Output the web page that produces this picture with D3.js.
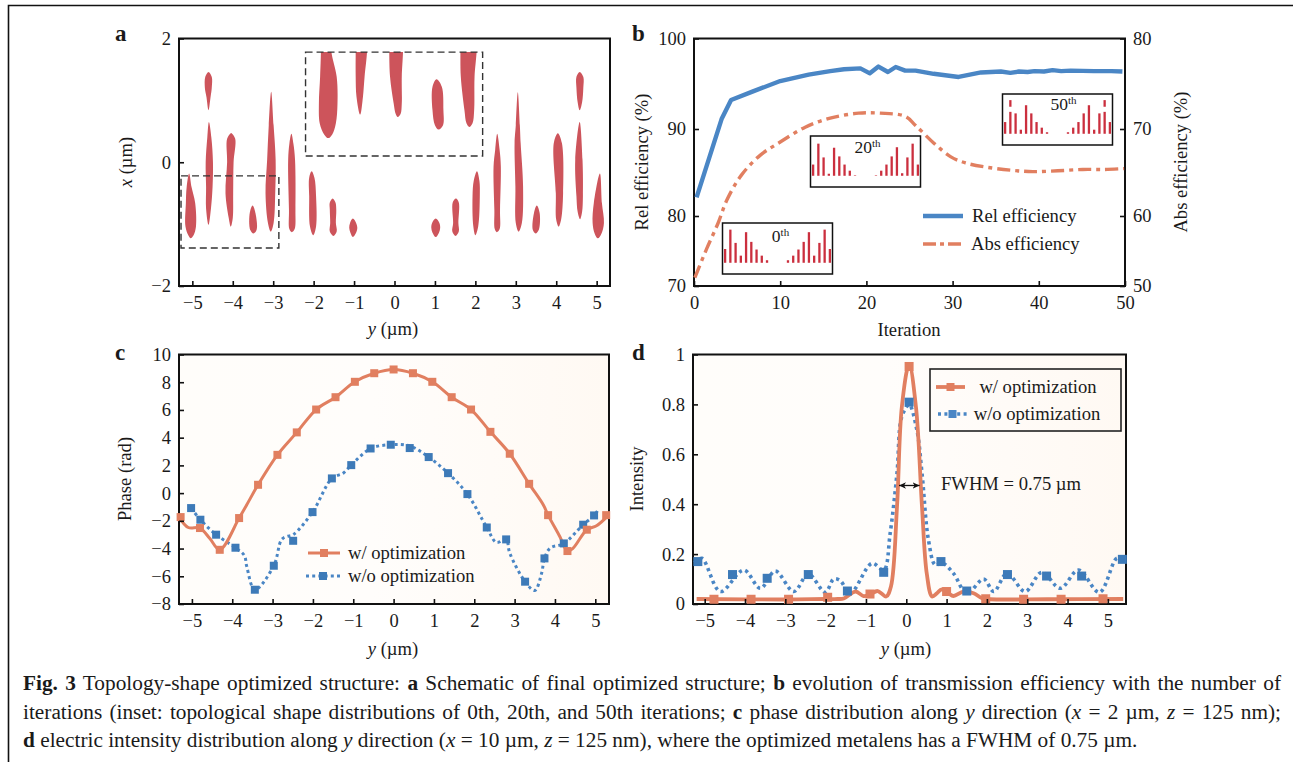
<!DOCTYPE html>
<html>
<head>
<meta charset="utf-8">
<script src="https://cdn.jsdelivr.net/npm/d3@7"></script>
<style>
  html, body { margin: 0; padding: 0; background: #fff; overflow: hidden; }
  svg { display: block; font-family: "Liberation Serif", serif; fill: #1a1a1a; }
  .tick text { font-family: "Liberation Serif", serif; font-size: 18.5px; fill: #1a1a1a; }
  .tick line { stroke: #111; stroke-width: 1.6; }
  .domain { display: none; }
  .frame { fill: none; stroke: #111; stroke-width: 2; }
  .title { font-size: 18.6px; }
  .panel-label { font-size: 23px; font-weight: bold; }
  .legend-text { font-size: 18.6px; }
  .caption { font-size: 21.3px; }
</style>
</head>
<body>
<svg id="chart" width="1293" height="762"></svg>
<script>
// panel a: each blob is a list of [x, yLeft, yRight] slices in um
const blobsLeft = [
  [[-0.18,-5.08,-5.08],[-0.4,-5.14,-5.02],[-0.66,-5.16,-4.93],[-1.04,-5.17,-4.91],[-1.18,-5.1,-4.97],[-1.23,-5.04,-5.04]],
  [[1.46,-4.6,-4.6],[1.38,-4.68,-4.52],[1.2,-4.69,-4.52],[1.05,-4.65,-4.55],[0.84,-4.6,-4.6]],
  [[0.65,-4.59,-4.59],[0.4,-4.63,-4.53],[0,-4.67,-4.49],[-0.4,-4.66,-4.5],[-0.75,-4.66,-4.54],[-1.01,-4.6,-4.6]],
  [[0.47,-4.05,-4.03],[0.38,-4.14,-3.94],[0,-4.14,-3.98],[-0.5,-4.18,-3.99],[-0.9,-4.1,-4.0],[-1.04,-4.05,-4.05]],
  [[-0.7,-3.51,-3.51],[-0.82,-3.58,-3.44],[-1.09,-3.57,-3.41],[-1.15,-3.49,-3.49]],
  [[1.14,-3.05,-3.05],[0.6,-3.11,-2.99],[0.04,-3.15,-2.94],[-0.5,-3.19,-2.95],[-0.98,-3.13,-2.99],[-1.12,-3.06,-3.06]],
  [[0.46,-2.55,-2.55],[0.3,-2.6,-2.5],[0.04,-2.63,-2.46],[-0.77,-2.61,-2.45],[-1.08,-2.6,-2.47],[-1.13,-2.54,-2.54]],
  [[-0.145,-2.05,-2.05],[-0.25,-2.11,-1.98],[-0.55,-2.11,-1.94],[-1.04,-2.09,-1.94],[-1.18,-2.01,-2.01]],
  [[-0.585,-1.53,-1.53],[-0.65,-1.6,-1.46],[-0.77,-1.6,-1.44],[-0.98,-1.59,-1.45],[-1.12,-1.6,-1.43],[-1.19,-1.51,-1.51]],
  [[-0.91,-1.03,-1.03],[-0.98,-1.1,-0.95],[-1.06,-1.12,-0.92],[-1.14,-1.09,-0.95],[-1.21,-1.03,-1.03]]
];
const blobsTop = [
  [[1.95,-1.82,-1.56],[1.78,-1.82,-1.56],[1.38,-1.84,-1.43],[0.95,-1.87,-1.41],[0.63,-1.85,-1.45],[0.45,-1.74,-1.54],[0.39,-1.64,-1.64]],
  [[1.95,-0.96,-0.68],[1.78,-0.96,-0.68],[1.38,-0.96,-0.74],[1.06,-0.94,-0.78],[0.77,-0.85,-0.85]],
  [[1.95,-0.13,0.21],[1.78,-0.13,0.21],[1.38,-0.11,0.18],[0.95,-0.02,0.18],[0.78,0.03,0.15],[0.73,0.08,0.08]],
  [[1.34,1.04,1.04],[1.22,0.94,1.17],[0.84,0.94,1.21],[0.6,1.0,1.2],[0.53,1.09,1.09]],
  [[1.95,1.63,2.03],[1.78,1.63,2.03],[1.38,1.64,1.98],[0.84,1.73,1.97],[0.63,1.78,1.93],[0.57,1.85,1.85]]
];
const blobsRight = [
  [[-0.91,1.02,1.02],[-0.98,0.93,1.11],[-1.06,0.91,1.13],[-1.14,0.94,1.1],[-1.21,1.02,1.02]],
  [[-0.585,1.52,1.52],[-0.65,1.44,1.59],[-0.98,1.45,1.58],[-1.12,1.43,1.59],[-1.19,1.51,1.51]],
  [[-0.145,2.04,2.04],[-0.3,1.96,2.1],[-0.55,1.93,2.11],[-1.04,1.95,2.07],[-1.18,2.0,2.0]],
  [[0.46,2.54,2.54],[0.2,2.49,2.6],[-0.07,2.45,2.63],[-0.77,2.47,2.61],[-1.08,2.48,2.6],[-1.13,2.53,2.53]],
  [[1.13,3.05,3.05],[0.6,3.0,3.1],[0.31,2.97,3.12],[-0.39,2.99,3.18],[-0.98,3.0,3.15],[-1.12,3.07,3.07]],
  [[-0.7,3.52,3.52],[-0.82,3.45,3.59],[-1.09,3.42,3.57],[-1.15,3.49,3.49]],
  [[0.47,4.04,4.04],[0.31,3.94,4.14],[-0.5,3.99,4.17],[-0.93,4.0,4.12],[-1.04,4.06,4.06]],
  [[1.46,4.58,4.58],[1.38,4.5,4.67],[1.2,4.5,4.67],[0.97,4.53,4.64],[0.84,4.58,4.58]],
  [[0.65,4.58,4.58],[0.04,4.47,4.65],[-0.55,4.5,4.66],[-0.8,4.53,4.64],[-0.92,4.59,4.59]],
  [[-0.18,5.08,5.08],[-0.66,4.93,5.13],[-0.98,4.9,5.18],[-1.15,4.95,5.12],[-1.23,5.03,5.03]]
];
const dashedBoxes = [[-5.28,-2.86,-1.385,-0.22],[-2.2,2.18,0.1,1.78]];

// panel b
const relIter = [0.3,3.2,4.3,6.7,10,13.3,15.8,17.4,19.3,20.4,21.4,22.5,23.4,24.5,25.7,27.8,30.7,33.3,35.6,36.7,37.7,38.7,39.5,40.6,41.6,42.6,43.7,46.4,48.4,49.7];
const relValues = [82.15,91.1,93.2,94.1,95.3,96,96.4,96.6,96.7,96.15,96.9,96.3,96.85,96.45,96.45,96.1,95.75,96.25,96.35,96.2,96.35,96.3,96.4,96.35,96.5,96.4,96.45,96.4,96.4,96.35];
const absIter = [0.1,1.5,2.8,3.8,5.5,7.7,10,12.9,15.8,19.1,21.6,24.5,25.7,27.8,29.8,31.5,34,36.9,39.3,42.2,45.1,47.6,49.9];
const absValues = [51.2,55.4,59,61.8,64.7,67,68.5,70.2,71.2,71.75,71.75,71.4,70.4,68.4,66.8,66.1,65.6,65.25,65.1,65.2,65.35,65.35,65.45];

// insets of panel b
const insetPositions = [-5,-4.5,-4,-3.5,-3,-2.5,-2,-1.5,-1,1,1.5,2,2.5,3,3.5,4,4.5,5];
const inset0Tops = [.49,.87,.61,.36,.82,.63,.48,.36,.27,.27,.36,.48,.63,.82,.36,.61,.87,.49];
const inset20Tops = [.44,.85,.58,.26,.77,.6,.44,.32,.23,.23,.32,.44,.6,.78,.27,.58,.85,.44];
const inset50Tops = [.45,.65,.62,.3,.78,.62,.45,.34,.25,.25,.34,.45,.62,.78,.3,.62,.65,.45];

// panel c
const phaseOptLine = [[-5.32,-1.73],[-5.09,-2.48],[-4.8,-2.52],[-4.55,-3.3],[-4.31,-4.09],[-3.83,-1.8],[-3.64,-0.84],[-3.36,0.6],[-2.88,2.76],[-2.4,4.38],[-1.92,6.03],[-1.44,6.92],[-0.96,8.03],[-0.48,8.65],[0,8.92],[0.48,8.65],[0.96,8.03],[1.44,6.92],[1.92,6.03],[2.4,4.42],[2.88,2.84],[3.36,0.67],[3.71,-0.84],[3.83,-1.59],[4.12,-3.13],[4.31,-4.18],[4.45,-3.97],[4.79,-2.64],[5.03,-2.36],[5.33,-1.59]];
const phaseOptMarks = [[-5.28,-1.73],[-4.8,-2.52],[-4.31,-4.09],[-3.83,-1.8],[-3.36,0.6],[-2.88,2.76],[-2.4,4.38],[-1.92,6.03],[-1.44,6.92],[-0.96,8.03],[-0.48,8.65],[0,8.92],[0.48,8.65],[0.96,8.03],[1.44,6.92],[1.92,6.03],[2.4,4.42],[2.88,2.84],[3.36,0.67],[3.83,-1.59],[4.31,-4.18],[4.79,-2.64],[5.27,-1.59]];
const phaseRawLine = [[-5.02,-1.08],[-4.79,-1.92],[-4.4,-3],[-3.92,-3.94],[-3.7,-4.5],[-3.64,-5.29],[-3.44,-6.97],[-2.97,-5.24],[-2.78,-3.37],[-2.65,-3.13],[-2.49,-3],[-2.01,-1.37],[-1.53,1.06],[-1.25,1.44],[-1.05,2.02],[-0.57,3.22],[-0.07,3.49],[0.4,3.4],[0.87,2.6],[1.35,1.44],[1.83,-0.07],[2.31,-2.48],[2.55,-3.56],[2.79,-3.34],[2.88,-4.33],[3.26,-6.39],[3.5,-7.02],[3.67,-5.77],[3.74,-4.71],[3.88,-3.97],[4.22,-3.63],[4.7,-2.28],[4.97,-1.61],[5.07,-1.2]];
const phaseRawMarks = [[-5.02,-1.08],[-4.79,-1.92],[-4.4,-3],[-3.92,-3.94],[-3.44,-6.97],[-2.97,-5.24],[-2.49,-3.44],[-2.01,-1.37],[-1.53,1.06],[-1.05,2.02],[-0.57,3.22],[-0.07,3.49],[0.4,3.25],[0.87,2.6],[1.35,1.44],[1.83,-0.07],[2.31,-2.48],[2.79,-3.34],[3.26,-6.39],[3.74,-4.71],[4.22,-3.63],[4.7,-2.28],[4.97,-1.61]];

// panel d
const intensityOptLine = [[-5.2,0.02],[-3,0.018],[-2,0.02],[-1.7,0.02],[-1.55,0.022],[-1.26,0.05],[-1.06,0.032],[-0.9,0.038],[-0.71,0.052],[-0.5,0.03],[-0.38,0.07],[-0.23,0.39],[-0.11,0.79],[0.07,0.96],[0.24,0.79],[0.39,0.39],[0.51,0.12],[0.64,0.03],[0.76,0.043],[0.88,0.059],[1.05,0.043],[1.17,0.032],[1.42,0.05],[1.67,0.043],[1.88,0.023],[2.08,0.019],[3.5,0.019],[5.38,0.02]];
const intensityOptMarks = [[-4.77,0.019],[-3.85,0.019],[-2.92,0.019],[-1.95,0.027],[-0.9,0.04],[0.07,0.952],[1,0.05],[1.97,0.021],[2.91,0.019],[3.84,0.019],[4.88,0.021]];
const intensityRawLine = [[-5.25,0.165],[-5.07,0.183],[-4.61,0.05],[-4.03,0.136],[-3.62,0.063],[-3.25,0.132],[-2.79,0.05],[-2.43,0.12],[-2.01,0.047],[-1.8,0.1],[-1.64,0.094],[-1.39,0.043],[-0.85,0.163],[-0.56,0.136],[-0.4,0.283],[-0.23,0.524],[-0.11,0.751],[0.07,0.798],[0.26,0.7],[0.39,0.524],[0.55,0.257],[0.72,0.156],[0.88,0.166],[1.17,0.123],[1.5,0.043],[1.92,0.1],[2.17,0.05],[2.5,0.123],[2.95,0.05],[3.36,0.127],[3.82,0.063],[4.27,0.136],[4.79,0.047],[5.22,0.183],[5.39,0.179]];
const intensityRawMarks = [[-5.17,0.17],[-4.31,0.118],[-3.45,0.103],[-2.43,0.118],[-1.46,0.052],[-0.56,0.127],[0.07,0.809],[0.86,0.17],[1.5,0.052],[2.51,0.118],[3.48,0.112],[4.35,0.112],[5.36,0.179]];

const yTicksMicron = [-5,-4,-3,-2,-1,0,1,2,3,4,5];
const ORANGE = "#e17f60";
const BLUE = "#4a86c5";
const MARK_BLUE = "#3d7ab8";
const BLOB_RED = "#cd545b";
const INSET_RED = "#cb2f3e";

const svg = d3.select("#chart");
const defs = svg.append("defs");

const shade = defs.append("linearGradient").attr("id", "panel-shade");
shade.append("stop").attr("offset", "0%").attr("stop-color", "#fffdfa");
shade.append("stop").attr("offset", "45%").attr("stop-color", "#fffdfb");
shade.append("stop").attr("offset", "100%").attr("stop-color", "#fff9f3");

defs.append("marker")
  .attr("id", "arrow-tip")
  .attr("viewBox", "0 0 8 8")
  .attr("refX", 7)
  .attr("refY", 4)
  .attr("markerWidth", 8)
  .attr("markerHeight", 8)
  .attr("markerUnits", "userSpaceOnUse")
  .attr("orient", "auto-start-reverse")
  .append("path")
  .attr("d", "M0,0.8 L7,4 L0,7.2 L2,4 z")
  .attr("fill", "#111");

// outer figure rule: top and left only
svg.append("path")
  .attr("d", "M1293,5.5 H8.5 V762")
  .attr("fill", "none")
  .attr("stroke", "#111")
  .attr("stroke-width", 1.6);

function makePanel(box, xDomain, yDomain, yRange) {
  const g = svg.append("g");
  const x = d3.scaleLinear().domain(xDomain).range([box.left, box.right]);
  const y = d3.scaleLinear().domain(yDomain).range(yRange || [box.bottom, box.top]);
  return { g, x, y, box };
}

function drawFrame(panel, shaded) {
  const { g, box } = panel;
  return g.insert("rect", ":first-child")
    .attr("class", "frame")
    .attr("x", box.left)
    .attr("y", box.top)
    .attr("width", box.right - box.left)
    .attr("height", box.bottom - box.top)
    .style("fill", shaded ? "url(#panel-shade)" : "none");
}

function drawAxes(panel, xTicks, yTicks, yFormat, xPad) {
  const { g, x, y, box } = panel;
  g.append("g")
    .attr("transform", `translate(0,${box.bottom})`)
    .call(d3.axisBottom(x).tickValues(xTicks).tickSizeInner(-5).tickSizeOuter(0).tickPadding(xPad));
  g.append("g")
    .attr("transform", `translate(${box.left},0)`)
    .call(d3.axisLeft(y).tickValues(yTicks).tickFormat(yFormat || d3.format("d")).tickSizeInner(-5).tickSizeOuter(0).tickPadding(8));
}

function panelLabel(text, x, y) {
  svg.append("text").attr("class", "panel-label").attr("x", x).attr("y", y).text(text);
}

function micronLabel(letter, x, y, rotate) {
  const t = svg.append("text")
    .attr("class", "title")
    .attr("text-anchor", "middle")
    .attr("transform", rotate ? `translate(${x},${y}) rotate(-90)` : `translate(${x},${y})`);
  t.append("tspan").attr("font-style", "italic").text(letter);
  t.append("tspan").text(" (\u00b5m)");
}

function plainLabel(text, x, y, rotate) {
  svg.append("text")
    .attr("class", "title")
    .attr("text-anchor", "middle")
    .attr("transform", rotate ? `translate(${x},${y}) rotate(-90)` : `translate(${x},${y})`)
    .text(text);
}

function drawSeries(panel, points, color, width, dash, curve) {
  const line = d3.line()
    .x((d) => panel.x(d[0]))
    .y((d) => panel.y(d[1]))
    .curve(curve || d3.curveCatmullRom.alpha(0.5));
  panel.g.append("path")
    .attr("d", line(points))
    .attr("fill", "none")
    .attr("stroke", color)
    .attr("stroke-width", width)
    .attr("stroke-dasharray", dash || null)
    .attr("stroke-linejoin", "round");
}

function drawMarks(panel, points, color, size) {
  panel.g.append("g")
    .selectAll("rect")
    .data(points)
    .join("rect")
    .attr("x", (d) => panel.x(d[0]) - size / 2)
    .attr("y", (d) => panel.y(d[1]) - size / 2)
    .attr("width", size)
    .attr("height", size)
    .attr("fill", color);
}

function legendRow(x1, x2, y, color, width, dash, mark, text, textX, anchor) {
  svg.append("line")
    .attr("x1", x1).attr("x2", x2).attr("y1", y).attr("y2", y)
    .attr("stroke", color).attr("stroke-width", width)
    .attr("stroke-dasharray", dash || null);
  if (mark) {
    svg.append("rect")
      .attr("x", (x1 + x2) / 2 - 4).attr("y", y - 4)
      .attr("width", 8).attr("height", 8).attr("fill", mark);
  }
  svg.append("text")
    .attr("class", "legend-text")
    .attr("x", textX).attr("y", y + 5.5)
    .attr("text-anchor", anchor || "start")
    .text(text);
}

// panel a
const panelA = makePanel({ left: 179, right: 610, top: 38.5, bottom: 286 }, [-5.33, 5.33], [-2, 2]);

// walk down the left edge and back up the right, a tip counts once
function blobOutline(slices) {
  const left = slices.map((d) => [d[1], d[0]]);
  const right = slices.filter((d) => d[1] !== d[2]).map((d) => [d[2], d[0]]).reverse();
  return left.concat(right);
}
const blobLine = d3.line()
  .x((d) => panelA.x(d[0]))
  .y((d) => panelA.y(d[1]))
  .curve(d3.curveCatmullRomClosed.alpha(0.5));

panelA.g.append("clipPath").attr("id", "clip-a").append("rect")
  .attr("x", panelA.box.left)
  .attr("y", panelA.y(dashedBoxes[1][3]))
  .attr("width", panelA.box.right - panelA.box.left)
  .attr("height", panelA.box.bottom - panelA.y(dashedBoxes[1][3]));

panelA.g.append("g")
  .attr("clip-path", "url(#clip-a)")
  .selectAll("path")
  .data([...blobsLeft, ...blobsTop, ...blobsRight])
  .join("path")
  .attr("d", (d) => blobLine(blobOutline(d)))
  .attr("fill", BLOB_RED);

panelA.g.append("g")
  .selectAll("rect")
  .data(dashedBoxes)
  .join("rect")
  .attr("x", (d) => panelA.x(d[0]))
  .attr("y", (d) => panelA.y(d[3]))
  .attr("width", (d) => panelA.x(d[1]) - panelA.x(d[0]))
  .attr("height", (d) => panelA.y(d[2]) - panelA.y(d[3]))
  .attr("fill", "none")
  .attr("stroke", "#333")
  .attr("stroke-width", 1.4)
  .attr("stroke-dasharray", "7 4");

drawFrame(panelA);
drawAxes(panelA, yTicksMicron, [-2, 0, 2], null, 10);
panelLabel("a", 115, 41);
micronLabel("y", 393, 335);
micronLabel("x", 132, 162, true);

// panel b: the printed tick spacing is uneven, so the scale has a knot per tick
const bRange = [286, 216, 129, 38.5];
const panelB = makePanel({ left: 694, right: 1125, top: 38.5, bottom: 286 }, [0, 50], [70, 80, 90, 100], bRange);
const yAbs = d3.scaleLinear().domain([50, 60, 70, 80]).range(bRange);

drawSeries(panelB, d3.zip(relIter, relValues), BLUE, 4.4, null, d3.curveLinear);
drawSeries({ ...panelB, y: yAbs }, d3.zip(absIter, absValues), ORANGE, 3.4, "13 5 4 5");
drawFrame(panelB);
drawAxes(panelB, [0, 10, 20, 30, 40, 50], [70, 80, 90, 100], null, 10);
panelB.g.append("g")
  .attr("transform", "translate(1125,0)")
  .call(d3.axisRight(yAbs).tickValues([50, 60, 70, 80]).tickSizeInner(-5).tickSizeOuter(0).tickPadding(8));
panelLabel("b", 632, 41);
plainLabel("Iteration", 909, 336);
plainLabel("Rel efficiency (%)", 648, 162, true);
plainLabel("Abs efficiency (%)", 1187, 162, true);

function drawInset(left, top, tops, label, sup, labelDx, labelY, floating) {
  const w = 110;
  const h = 51;
  const g = svg.append("g").attr("transform", `translate(${left},${top})`);
  const x = d3.scaleLinear().domain([-5.25, 5.25]).range([0, w]);
  const y = d3.scaleLinear().domain([0, 1]).range([h, 0]);
  g.append("rect").attr("width", w).attr("height", h)
    .attr("fill", "#fff").attr("stroke", "#111").attr("stroke-width", 1.5);
  g.selectAll("line.bar")
    .data(d3.zip(insetPositions, tops))
    .join("line")
    .attr("class", "bar")
    .attr("x1", (d) => x(d[0])).attr("x2", (d) => x(d[0]))
    .attr("y1", y(0.22)).attr("y2", (d) => y(d[1]))
    .attr("stroke", INSET_RED).attr("stroke-width", 2.3);
  if (floating) {
    g.selectAll("line.float")
      .data(floating)
      .join("line")
      .attr("class", "float")
      .attr("x1", (d) => x(d)).attr("x2", (d) => x(d))
      .attr("y1", y(0.75)).attr("y2", y(0.88))
      .attr("stroke", INSET_RED).attr("stroke-width", 2.3);
  }
  const t = g.append("text")
    .attr("x", w / 2 + labelDx)
    .attr("y", labelY)
    .attr("text-anchor", "middle")
    .attr("font-size", 17.5);
  t.append("tspan").text(label);
  t.append("tspan").attr("font-size", 11).attr("dy", -6).text(sup);
}

drawInset(722.5, 223, inset0Tops, "0", "th", 3, 19);
drawInset(810.5, 136, inset20Tops, "20", "th", 2, 17);
drawInset(1002.5, 94, inset50Tops, "50", "th", 6, 16, [-4.5, 4.5]);

legendRow(923, 963, 216, BLUE, 4.4, null, null, "Rel efficiency", 972);
legendRow(923, 963, 244, ORANGE, 3.4, "13 4 4 4", null, "Abs efficiency", 971);

// panel c
const panelC = makePanel({ left: 179, right: 609, top: 354.5, bottom: 604 }, [-5.32, 5.34], [-8, 10]);
drawFrame(panelC, true);
drawSeries(panelC, phaseRawLine, BLUE, 3, "3 3.2");
drawSeries(panelC, phaseOptLine, ORANGE, 3);
drawMarks(panelC, phaseRawMarks, MARK_BLUE, 8);
drawMarks(panelC, phaseOptMarks, ORANGE, 8);
drawAxes(panelC, yTicksMicron, d3.range(-8, 11, 2), null, 10);
panelLabel("c", 115, 360);
micronLabel("y", 393, 655);
plainLabel("Phase (rad)", 131, 479, true);

legendRow(308, 340, 553, ORANGE, 3, null, ORANGE, "w/ optimization", 348);
legendRow(306, 340, 576, BLUE, 3, "3 3.2", MARK_BLUE, "w/o optimization", 348);

// panel d
const panelD = makePanel({ left: 693, right: 1126, top: 354.5, bottom: 604 }, [-5.29, 5.45], [0, 1]);
drawFrame(panelD, true);
drawSeries(panelD, intensityRawLine, BLUE, 3.6, "3.2 3.6");
drawSeries(panelD, intensityOptLine, ORANGE, 3.8);
drawMarks(panelD, intensityRawMarks, MARK_BLUE, 9);
drawMarks(panelD, intensityOptMarks, ORANGE, 9);
drawAxes(panelD, yTicksMicron, [0, 0.2, 0.4, 0.6, 0.8, 1], (d) => (d === 0 || d === 1 ? d : d.toFixed(1)), 10);
panelLabel("d", 632, 360);
micronLabel("y", 906, 655);
plainLabel("Intensity", 643, 479, true);

svg.append("rect")
  .attr("x", 930).attr("y", 369).attr("width", 191).attr("height", 62)
  .attr("fill", "none").attr("stroke", "#222").attr("stroke-width", 1.6);
legendRow(936, 965, 387, ORANGE, 3.8, null, ORANGE, "w/ optimization", 1038, "middle");
legendRow(938, 967, 414, BLUE, 3.6, "3 3.4", BLUE, "w/o optimization", 1037, "middle");

svg.append("line")
  .attr("x1", panelD.x(-0.18)).attr("x2", panelD.x(0.33))
  .attr("y1", panelD.y(0.475)).attr("y2", panelD.y(0.475))
  .attr("stroke", "#111").attr("stroke-width", 1.3)
  .attr("marker-start", "url(#arrow-tip)")
  .attr("marker-end", "url(#arrow-tip)");
svg.append("text")
  .attr("x", 941).attr("y", 490)
  .attr("font-size", 18.6)
  .text("FWHM = 0.75 \u00b5m");

// caption, first two lines are justified by adjusting the word gaps
const captionLines = [
  { y: 690, justify: true, parts: [["Fig. 3", "b"], [" Topology-shape optimized structure: "], ["a", "b"], [" Schematic of final optimized structure; "], ["b", "b"], [" evolution of transmission efficiency with the number of"]] },
  { y: 719, justify: true, parts: [["iterations (inset: topological shape distributions of 0th, 20th, and 50th iterations; "], ["c", "b"], [" phase distribution along "], ["y", "i"], [" direction ("], ["x", "i"], [" = 2 \u00b5m, "], ["z", "i"], [" = 125 nm);"]] },
  { y: 747, justify: false, parts: [["d", "b"], [" electric intensity distribution along "], ["y", "i"], [" direction ("], ["x", "i"], [" = 10 \u00b5m, "], ["z", "i"], [" = 125 nm), where the optimized metalens has a FWHM of 0.75 \u00b5m."]] }
];
const CAPTION_LEFT = 23;
const CAPTION_RIGHT = 1281;

captionLines.forEach((row) => {
  const text = svg.append("text")
    .attr("class", "caption")
    .attr("x", CAPTION_LEFT)
    .attr("y", row.y)
    .attr("xml:space", "preserve")
    .style("white-space", "pre");
  row.parts.forEach(([content, kind]) => {
    text.append("tspan")
      .attr("font-weight", kind === "b" ? "bold" : null)
      .attr("font-style", kind === "i" ? "italic" : null)
      .text(content);
  });
  if (row.justify) {
    const gaps = row.parts.map((p) => p[0]).join("").split(" ").length - 1;
    const extra = (CAPTION_RIGHT - CAPTION_LEFT - text.node().getComputedTextLength()) / gaps;
    text.style("word-spacing", `${extra}px`);
  }
});
</script>
</body>
</html>
